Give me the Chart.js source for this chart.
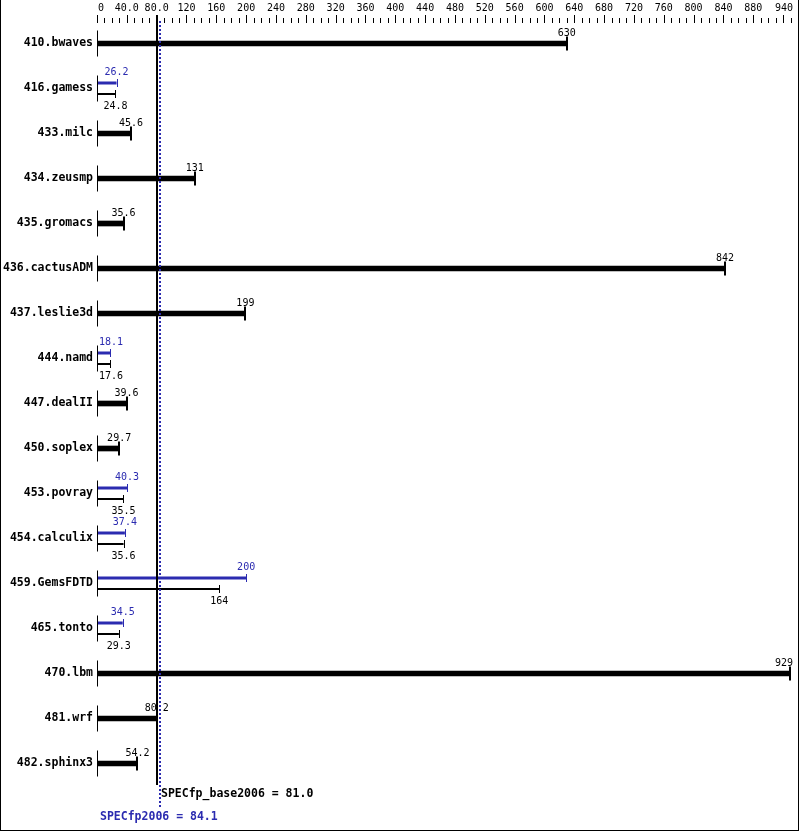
<!DOCTYPE html>
<html>
<head>
<meta charset="utf-8">
<script src="https://cdn.jsdelivr.net/npm/chart.js@4.4.1/dist/chart.umd.min.js"></script>
<style>
  html, body { margin: 0; padding: 0; background: #fff; }
  #wrap { width: 797px; height: 830px; border: 1px solid #000; border-top: none; }
  canvas { display: block; }
</style>
</head>
<body>
<div id="wrap"><canvas id="chart" width="797" height="830"></canvas></div>
<script>
var benchmarks = ['410.bwaves', '416.gamess', '433.milc', '434.zeusmp', '435.gromacs', '436.cactusADM',
  '437.leslie3d', '444.namd', '447.dealII', '450.soplex', '453.povray', '454.calculix',
  '459.GemsFDTD', '465.tonto', '470.lbm', '481.wrf', '482.sphinx3'];
var peakValues = [630, 26.2, 45.6, 131, 35.6, 842, 199, 18.1, 39.6, 29.7, 40.3, 37.4, 200, 34.5, 929, 80.2, 54.2];
var baseValues = [630, 24.8, 45.6, 131, 35.6, 842, 199, 17.6, 39.6, 29.7, 35.5, 35.6, 164, 29.3, 929, 80.2, 54.2];
var axisLabelValues = [0, 40, 80, 120, 160, 200, 240, 280, 320, 360, 400, 440, 480, 520, 560, 600, 640, 680, 720, 760, 800, 840, 880, 940];
var axisLabels = ['0', '40.0', '80.0', '120', '160', '200', '240', '280', '320', '360', '400', '440', '480', '520', '560', '600', '640', '680', '720', '760', '800', '840', '880', '940'];
var axisMax = 940, minorStep = 10, majorStep = 40;
var baseScore = 81.0, peakScore = 84.1;

var BLUE = '#2b2bb0';
var MONO = '"DejaVu Sans Mono", "Liberation Mono", monospace';

var isSingle = benchmarks.map(function (b, i) { return peakValues[i] === baseValues[i]; });
var singleData = baseValues.map(function (v, i) { return isSingle[i] ? v : null; });
var peakData = peakValues.map(function (v, i) { return isSingle[i] ? null : v; });
var baseData = baseValues.map(function (v, i) { return isSingle[i] ? null : v; });

function fmt(v) { return v >= 100 ? String(Math.round(v)) : v.toFixed(1); }

var specPlugin = {
  id: 'specDecor',
  afterDatasetsDraw: function (chart) {
    var ctx = chart.ctx, xs = chart.scales.x, ys = chart.scales.y, area = chart.chartArea;
    var rightLimit = chart.width - 5;
    ctx.save();

    // top axis ticks
    ctx.strokeStyle = '#000';
    ctx.lineWidth = 1;
    for (var v = 0; v <= axisMax; v += minorStep) {
      var tx = Math.round(xs.getPixelForValue(v)) + 0.5;
      ctx.beginPath();
      ctx.moveTo(tx, v % majorStep === 0 ? 15 : 18);
      ctx.lineTo(tx, 23);
      ctx.stroke();
    }
    ctx.fillStyle = '#000';
    ctx.font = '10px ' + MONO;
    ctx.textAlign = 'center';
    ctx.textBaseline = 'middle';
    axisLabelValues.forEach(function (val, i) {
      var w = ctx.measureText(axisLabels[i]).width;
      var lx = xs.getPixelForValue(val);
      lx = Math.max(lx, area.left + 1 + w / 2);
      lx = Math.min(lx, rightLimit - w / 2);
      ctx.fillText(axisLabels[i], lx, 8);
    });

    // left axis segment per row
    benchmarks.forEach(function (b, i) {
      var cy = ys.getPixelForValue(i);
      ctx.beginPath();
      ctx.moveTo(area.left + 0.5, cy - 13);
      ctx.lineTo(area.left + 0.5, cy + 13);
      ctx.stroke();
    });

    // end ticks and value labels
    ctx.font = '10px ' + MONO;
    function label(text, x, y, color) {
      var w = ctx.measureText(text).width;
      var lx = Math.max(x, area.left + 2 + w / 2);
      lx = Math.min(lx, rightLimit - w / 2);
      ctx.fillStyle = color;
      ctx.fillText(text, lx, y);
    }
    chart.data.datasets.forEach(function (ds, di) {
      var meta = chart.getDatasetMeta(di);
      meta.data.forEach(function (el, i) {
        var val = ds.data[i];
        if (val === null) return;
        var ex = Math.round(el.x);
        ctx.strokeStyle = ds.backgroundColor;
        if (ds.kind === 'single') {
          ctx.lineWidth = 2;
          ctx.beginPath(); ctx.moveTo(ex, el.y - 7); ctx.lineTo(ex, el.y + 7); ctx.stroke();
          label(fmt(val), el.x, el.y - 10.5, '#000');
        } else {
          ctx.lineWidth = 1;
          ctx.beginPath(); ctx.moveTo(ex + 0.5, el.y - 4); ctx.lineTo(ex + 0.5, el.y + 4); ctx.stroke();
          if (ds.kind === 'peak') label(fmt(val), el.x, el.y - 10.5, BLUE);
          else label(fmt(val), el.x, el.y + 12.5, '#000');
        }
      });
    });

    // score lines
    var bx = Math.round(xs.getPixelForValue(baseScore));
    ctx.strokeStyle = '#000';
    ctx.lineWidth = 2;
    ctx.beginPath(); ctx.moveTo(bx, 15); ctx.lineTo(bx, area.bottom - 1); ctx.stroke();

    var px = Math.round(xs.getPixelForValue(peakScore));
    ctx.strokeStyle = BLUE;
    ctx.setLineDash([2, 2]);
    ctx.beginPath(); ctx.moveTo(px, area.top); ctx.lineTo(px, area.bottom + 22); ctx.stroke();
    ctx.setLineDash([]);

    ctx.font = 'bold 11.5px ' + MONO;
    ctx.textAlign = 'left';
    ctx.fillStyle = '#000';
    ctx.fillText('SPECfp_base2006 = ' + baseScore.toFixed(1), bx + 4, area.bottom + 8);
    ctx.fillStyle = BLUE;
    ctx.fillText('SPECfp2006 = ' + peakScore.toFixed(1), area.left + 3, area.bottom + 31);

    ctx.restore();
  }
};

new Chart(document.getElementById('chart').getContext('2d'), {
  type: 'bar',
  data: {
    labels: benchmarks,
    datasets: [
      { kind: 'peak', data: peakData, backgroundColor: BLUE, categoryPercentage: 22 / 45, barPercentage: 3 / 11 },
      { kind: 'base', data: baseData, backgroundColor: '#000', categoryPercentage: 22 / 45, barPercentage: 2 / 11 },
      { kind: 'single', data: singleData, backgroundColor: '#000', grouped: false, barThickness: 5 }
    ]
  },
  options: {
    indexAxis: 'y',
    responsive: false,
    animation: false,
    devicePixelRatio: 1,
    layout: { padding: { top: 21, bottom: 44, left: 0, right: 0 } },
    plugins: { legend: { display: false }, tooltip: { enabled: false } },
    scales: {
      x: { display: false, min: 0, max: axisMax },
      y: {
        grid: { display: false, drawTicks: false, tickLength: 0 },
        border: { display: false },
        ticks: { color: '#000', padding: 4, font: { family: MONO, weight: 'bold', size: 11.5 } },
        afterFit: function (s) { s.width = 96; }
      }
    }
  },
  plugins: [specPlugin]
});
</script>
</body>
</html>
